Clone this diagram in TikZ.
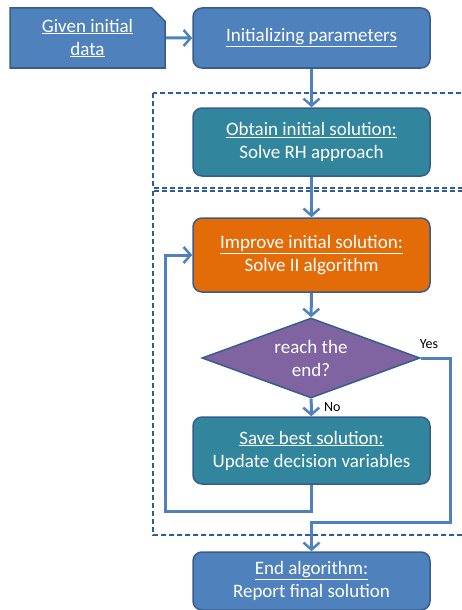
\documentclass[tikz,border=0pt]{standalone}
\usepackage{fontspec}
\setmainfont{Carlito}
\usepackage{xcolor}
\usetikzlibrary{arrows.meta,shapes.geometric,shapes.misc}
\definecolor{boxblue}{HTML}{4F81BD}
\definecolor{boxedge}{HTML}{385D8A}
\definecolor{boxteal}{HTML}{31859C}
\definecolor{boxorange}{HTML}{E36C09}
\definecolor{boxpurple}{HTML}{8064A2}
\definecolor{dashblue}{HTML}{2F5C9C}
\tikzset{
	block/.style={
			draw=boxedge, line width=1.5pt, rounded corners=9pt, text=white,
			align=center, minimum width=237pt, font=\fontsize{19}{23}\selectfont
		},
	flow/.style={draw=boxblue, line width=3pt, -{Straight Barb[length=7pt,width=16pt,line width=2.5pt]}},
	dashbox/.style={draw=dashblue, line width=1.3pt, dash pattern=on 5pt off 3pt}
}

\begin{document}
\begin{tikzpicture}[x=1pt, y=-1pt]
		\useasboundingbox (0,0) rectangle (462,610);

		\draw[dashbox]	(153,93) rectangle (480,188);
		\draw[dashbox]	(153,191) rectangle (480,535);

		\node[chamfered rectangle, chamfered rectangle corners=north east, chamfered rectangle xsep=10pt,
			draw=boxedge, line width=1.5pt, fill=boxblue, text=white, align=center,
			minimum width=155pt, minimum height=60pt, inner sep=2pt, font=\fontsize{19}{23}\selectfont]
			(given) at (87.5,38) {\underline{Given initial}\\\underline{data}};

		\node[block, fill=boxblue, minimum height=60pt]	(init) at (311.5,38) {\underline{Initializing parameters}};
		\node[block, fill=boxteal, minimum height=68pt]	(obtain) at (311.5,142) {\underline{Obtain initial solution:}\\Solve RH approach};
		\node[block, fill=boxorange, minimum height=74pt]	(improve) at (311.5,255) {\underline{Improve initial solution:}\\Solve II algorithm};
		\node[diamond, shape aspect=2.7, draw=boxedge, line width=1.5pt, fill=boxpurple, text=white, align=center,
			minimum width=218pt, minimum height=80pt, inner sep=0pt, font=\fontsize{19}{23}\selectfont]
			(reach) at (311,358) {reach the\\end?};
		\node[block, fill=boxteal, minimum height=67pt]	(save) at (311.5,450.5) {\underline{Save best solution:}\\Update decision variables};
		\node[block, fill=boxblue, minimum height=58pt]	(endalg) at (311.5,581) {\underline{End algorithm:}\\Report final solution};

		\coordinate (loopL) at (165,511);
		\coordinate (yesR) at (450,522);

		\draw[flow]	(given) -- (init);
		\draw[flow]	(init) -- (obtain);
		\draw[flow]	(obtain) -- (improve);
		\draw[flow]	(improve) -- (reach);
		\draw[flow]	(reach) to node[right, xshift=8pt, font=\fontsize{14}{16}\selectfont]{No} (save);
		\draw[flow]	(save.south) |- (loopL) |- (improve.west);
		\draw[flow]	(reach.east) -| (yesR) -| (endalg.north);

		\node[font=\fontsize{14}{16}\selectfont]	(yes) at (429,344) {Yes};
	\end{tikzpicture}
\end{document}
